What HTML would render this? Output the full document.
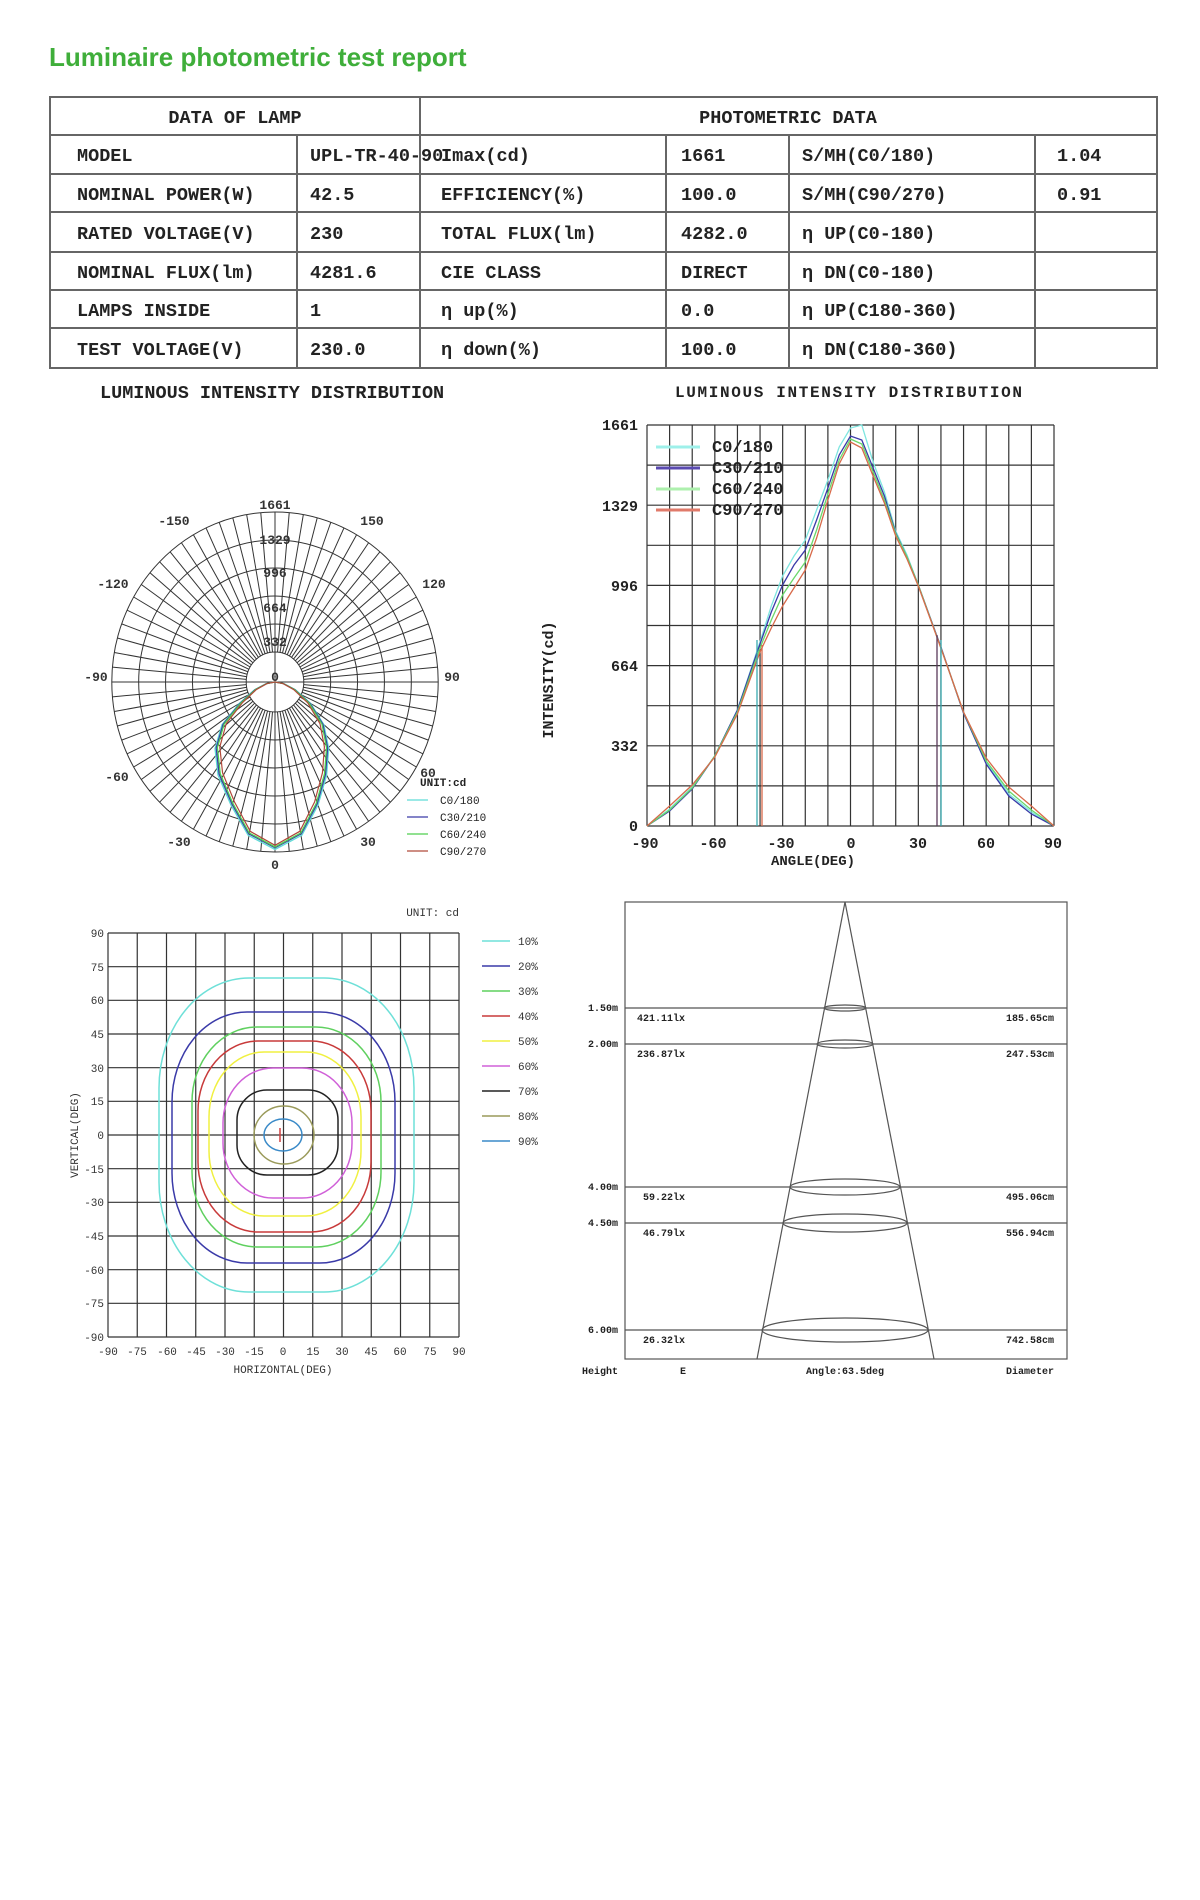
<!DOCTYPE html>
<html><head><meta charset="utf-8"><style>
html,body{margin:0;padding:0;background:#fff;}
svg{display:block}
.t{font-family:"Liberation Mono",monospace;font-weight:bold;fill:#222}
.m{font-family:"Liberation Mono",monospace;fill:#333}
</style></head><body>
<svg id="s" width="1200" height="1900" viewBox="0 0 1200 1900" xmlns="http://www.w3.org/2000/svg">
<rect width="1200" height="1900" fill="#fff"/>
<text x="49" y="66" font-family="Liberation Sans, sans-serif" font-weight="bold" font-size="26" fill="#3fae3a">Luminaire photometric test report</text>

<g stroke="#666" stroke-width="2" fill="none">
<rect x="50" y="97" width="1107" height="271"/>
<line x1="50" y1="135" x2="1157" y2="135"/>
<line x1="50" y1="174" x2="1157" y2="174"/>
<line x1="50" y1="212" x2="1157" y2="212"/>
<line x1="50" y1="252" x2="1157" y2="252"/>
<line x1="50" y1="290" x2="1157" y2="290"/>
<line x1="50" y1="328" x2="1157" y2="328"/>
<line x1="420" y1="97" x2="420" y2="368"/>
<line x1="297" y1="135" x2="297" y2="368"/>
<line x1="666" y1="135" x2="666" y2="368"/>
<line x1="789" y1="135" x2="789" y2="368"/>
<line x1="1035" y1="135" x2="1035" y2="368"/>
</g>
<g class="t" font-size="18.5">
<text x="235" y="123" text-anchor="middle">DATA OF LAMP</text>
<text x="788" y="123" text-anchor="middle">PHOTOMETRIC DATA</text>
<text x="77" y="161">MODEL</text><text x="310" y="161">UPL-TR-40-90</text><text x="441" y="161">Imax(cd)</text><text x="681" y="161">1661</text><text x="802" y="161">S/MH(C0/180)</text><text x="1057" y="161">1.04</text>
<text x="77" y="200">NOMINAL POWER(W)</text><text x="310" y="200">42.5</text><text x="441" y="200">EFFICIENCY(%)</text><text x="681" y="200">100.0</text><text x="802" y="200">S/MH(C90/270)</text><text x="1057" y="200">0.91</text>
<text x="77" y="239">RATED VOLTAGE(V)</text><text x="310" y="239">230</text><text x="441" y="239">TOTAL FLUX(lm)</text><text x="681" y="239">4282.0</text><text x="802" y="239">η UP(C0-180)</text>
<text x="77" y="278">NOMINAL FLUX(lm)</text><text x="310" y="278">4281.6</text><text x="441" y="278">CIE CLASS</text><text x="681" y="278">DIRECT</text><text x="802" y="278">η DN(C0-180)</text>
<text x="77" y="316">LAMPS INSIDE</text><text x="310" y="316">1</text><text x="441" y="316">η up(%)</text><text x="681" y="316">0.0</text><text x="802" y="316">η UP(C180-360)</text>
<text x="77" y="355">TEST VOLTAGE(V)</text><text x="310" y="355">230.0</text><text x="441" y="355">η down(%)</text><text x="681" y="355">100.0</text><text x="802" y="355">η DN(C180-360)</text>
</g>

<text class="t" x="100" y="398" font-size="18.5">LUMINOUS INTENSITY DISTRIBUTION</text>
<text class="t" x="675" y="397" font-size="16" textLength="347">LUMINOUS INTENSITY DISTRIBUTION</text>

<g id="polar" stroke="#333" stroke-width="1" fill="none"></g>
<g class="m" font-size="13" font-weight="bold" text-anchor="middle" fill="#333">
<text x="275" y="509">1661</text><text x="275" y="544">1329</text><text x="275" y="577">996</text><text x="275" y="612">664</text><text x="275" y="646">332</text><text x="275" y="681">0</text>
<text x="174" y="525">-150</text><text x="372" y="525">150</text>
<text x="113" y="588">-120</text><text x="434" y="588">120</text>
<text x="96" y="681">-90</text><text x="452" y="681">90</text>
<text x="117" y="781">-60</text><text x="428" y="777">60</text>
<text x="179" y="846">-30</text><text x="368" y="846">30</text>
<text x="275" y="869">0</text>
</g>
<g fill="none" stroke-width="1.3">
<path stroke="#5fdcd6" d="M275,682 L266.3,683.6 L254.7,689.7 L239.3,703.5 L222,724.7 L215,748.6 L218,775.1 L231,805.1 L248.1,835.2 L275,849.5 L301.9,835.2 L318,805.1 L326.6,775.1 L328.7,748.6 L323.9,724.7 L310.7,703.5 L295.3,689.7 L283.7,683.6 Z"/>
<path stroke="#3a3aa8" transform="translate(275 682) scale(0.98 0.99) translate(-275 -682)" d="M275,682 L266.3,683.6 L254.7,689.7 L239.3,703.5 L222,724.7 L215,748.6 L218,775.1 L231,805.1 L248.1,835.2 L275,849.5 L301.9,835.2 L318,805.1 L326.6,775.1 L328.7,748.6 L323.9,724.7 L310.7,703.5 L295.3,689.7 L283.7,683.6 Z"/>
<path stroke="#4fcf4f" transform="translate(275 682) scale(0.96 0.985) translate(-275 -682)" d="M275,682 L266.3,683.6 L254.7,689.7 L239.3,703.5 L222,724.7 L215,748.6 L218,775.1 L231,805.1 L248.1,835.2 L275,849.5 L301.9,835.2 L318,805.1 L326.6,775.1 L328.7,748.6 L323.9,724.7 L310.7,703.5 L295.3,689.7 L283.7,683.6 Z"/>
<path stroke="#b04a3a" transform="translate(275 682) scale(0.92 0.975) translate(-275 -682)" d="M275,682 L266.3,683.6 L254.7,689.7 L239.3,703.5 L222,724.7 L215,748.6 L218,775.1 L231,805.1 L248.1,835.2 L275,849.5 L301.9,835.2 L318,805.1 L326.6,775.1 L328.7,748.6 L323.9,724.7 L310.7,703.5 L295.3,689.7 L283.7,683.6 Z"/>
</g>
<g class="t" font-size="11">
<text x="420" y="786">UNIT:cd</text>
<text x="440" y="804" font-weight="normal">C0/180</text>
<text x="440" y="821" font-weight="normal">C30/210</text>
<text x="440" y="838" font-weight="normal">C60/240</text>
<text x="440" y="855" font-weight="normal">C90/270</text>
</g>
<g stroke-width="1.3">
<line x1="407" y1="800" x2="428" y2="800" stroke="#5fdcd6"/>
<line x1="407" y1="817" x2="428" y2="817" stroke="#3a3aa8"/>
<line x1="407" y1="834" x2="428" y2="834" stroke="#4fcf4f"/>
<line x1="407" y1="851" x2="428" y2="851" stroke="#b04a3a"/>
</g>

<g id="lin" stroke="#333" stroke-width="1.2" fill="none"></g>
<g class="t" font-size="15" text-anchor="end">
<text x="638" y="430">1661</text><text x="638" y="511">1329</text><text x="638" y="591">996</text><text x="638" y="671">664</text><text x="638" y="751">332</text><text x="638" y="831">0</text>
</g>
<g class="t" font-size="15" text-anchor="middle">
<text x="645" y="848">-90</text><text x="713" y="848">-60</text><text x="781" y="848">-30</text><text x="851" y="848">0</text><text x="918" y="848">30</text><text x="986" y="848">60</text><text x="1053" y="848">90</text>
<text x="813" y="865" font-size="14">ANGLE(DEG)</text>
<text transform="translate(553 680) rotate(-90)" font-size="15">INTENSITY(cd)</text>
</g>
<g fill="none" stroke-width="1.3">
<polyline stroke="#7fe6e0" points="647,826 669.6,809 692.2,787 714.8,756 737.4,710 760,642 771.3,606 782.6,576 794,556 805.3,540 816.6,510 827.9,480 839.2,447 850.5,428 861.8,425 873.1,462 884.4,492 895.7,531 907,555 918.3,585 940.9,647 963.5,713 986.2,762 1008.8,794 1031.4,812 1054,826"/>
<polyline stroke="#3a3aa8" points="647,826 669.6,811 692.2,789 714.8,756 737.4,710 760,644 771.3,612 782.6,585 794,565 805.3,550 816.6,520 827.9,488 839.2,455 850.5,436 861.8,440 873.1,468 884.4,496 895.7,533 907,557 918.3,585 940.9,647 963.5,713 986.2,764 1008.8,796 1031.4,814 1054,826"/>
<polyline stroke="#6ad86a" points="647,826 669.6,810 692.2,788 714.8,756 737.4,712 760,648 771.3,620 782.6,595 794,578 805.3,562 816.6,530 827.9,494 839.2,460 850.5,439 861.8,444 873.1,472 884.4,500 895.7,534 907,557 918.3,585 940.9,648 963.5,712 986.2,761 1008.8,791 1031.4,810 1054,826"/>
<polyline stroke="#d86a4a" points="647,826 669.6,806 692.2,785 714.8,757 737.4,714 760,652 771.3,628 782.6,606 794,588 805.3,570 816.6,538 827.9,500 839.2,464 850.5,442 861.8,448 873.1,476 884.4,503 895.7,536 907,559 918.3,586 940.9,648 963.5,712 986.2,758 1008.8,787 1031.4,806 1054,826"/>
<line x1="757" y1="826" x2="757" y2="640" stroke="#3aaab0"/>
<line x1="762" y1="826" x2="762" y2="645" stroke="#d86a4a"/>
<line x1="937" y1="826" x2="937" y2="635" stroke="#5a3a5a"/>
<line x1="941" y1="826" x2="941" y2="640" stroke="#3aaab0"/>
<line x1="656" y1="447" x2="700" y2="447" stroke="#9ef0ea" stroke-width="3"/>
<line x1="656" y1="468" x2="700" y2="468" stroke="#5a4ab0" stroke-width="3"/>
<line x1="656" y1="489" x2="700" y2="489" stroke="#aef0ae" stroke-width="3"/>
<line x1="656" y1="510" x2="700" y2="510" stroke="#e07a6a" stroke-width="3"/>
</g>
<g class="t" font-size="17">
<text x="712" y="452">C0/180</text><text x="712" y="473">C30/210</text><text x="712" y="494">C60/240</text><text x="712" y="515">C90/270</text>
</g>

<g id="iso" stroke="#333" stroke-width="1.2" fill="none"></g>
<g class="m" font-size="11" text-anchor="end" fill="#555">
<text x="104" y="937">90</text><text x="104" y="971">75</text><text x="104" y="1004">60</text><text x="104" y="1038">45</text><text x="104" y="1072">30</text><text x="104" y="1105">15</text><text x="104" y="1139">0</text><text x="104" y="1173">-15</text><text x="104" y="1206">-30</text><text x="104" y="1240">-45</text><text x="104" y="1274">-60</text><text x="104" y="1307">-75</text><text x="104" y="1341">-90</text>
</g>
<g class="m" font-size="11" text-anchor="middle" fill="#555">
<text x="108" y="1355">-90</text><text x="137" y="1355">-75</text><text x="167" y="1355">-60</text><text x="196" y="1355">-45</text><text x="225" y="1355">-30</text><text x="254" y="1355">-15</text><text x="283" y="1355">0</text><text x="313" y="1355">15</text><text x="342" y="1355">30</text><text x="371" y="1355">45</text><text x="400" y="1355">60</text><text x="430" y="1355">75</text><text x="459" y="1355">90</text>
<text x="283" y="1373">HORIZONTAL(DEG)</text>
<text transform="translate(78 1135) rotate(-90)">VERTICAL(DEG)</text>
<text x="459" y="916" text-anchor="end">UNIT: cd</text>
</g>
<g fill="none" stroke-width="1.5">
<rect x="159" y="978" width="255" height="314" rx="90" ry="110" stroke="#6ee0d8"/>
<rect x="172" y="1012" width="223" height="251" rx="75" ry="90" stroke="#3a3aa8"/>
<rect x="192" y="1027" width="189" height="220" rx="65" ry="75" stroke="#5fd05f"/>
<rect x="198" y="1041" width="173" height="191" rx="60" ry="70" stroke="#c83a3a"/>
<rect x="209" y="1052" width="152" height="164" rx="55" ry="65" stroke="#f0f040"/>
<rect x="223" y="1068" width="129" height="130" rx="50" ry="55" stroke="#d060d8"/>
<rect x="237" y="1090" width="101" height="85" rx="30" ry="30" stroke="#222"/>
<ellipse cx="284" cy="1135" rx="30" ry="29" stroke="#9a9a5a"/>
<ellipse cx="283" cy="1135" rx="19" ry="16" stroke="#3a8ac8"/>
<line x1="280" y1="1128" x2="280" y2="1142" stroke="#d04040"/>
</g>
<g stroke-width="1.5">
<line x1="482" y1="941" x2="510" y2="941" stroke="#6ee0d8"/>
<line x1="482" y1="966" x2="510" y2="966" stroke="#3a3aa8"/>
<line x1="482" y1="991" x2="510" y2="991" stroke="#5fd05f"/>
<line x1="482" y1="1016" x2="510" y2="1016" stroke="#c83a3a"/>
<line x1="482" y1="1041" x2="510" y2="1041" stroke="#f0f040"/>
<line x1="482" y1="1066" x2="510" y2="1066" stroke="#d060d8"/>
<line x1="482" y1="1091" x2="510" y2="1091" stroke="#222"/>
<line x1="482" y1="1116" x2="510" y2="1116" stroke="#9a9a5a"/>
<line x1="482" y1="1141" x2="510" y2="1141" stroke="#3a8ac8"/>
</g>
<g class="m" font-size="11" fill="#555">
<text x="518" y="945">10%</text><text x="518" y="970">20%</text><text x="518" y="995">30%</text><text x="518" y="1020">40%</text><text x="518" y="1045">50%</text><text x="518" y="1070">60%</text><text x="518" y="1095">70%</text><text x="518" y="1120">80%</text><text x="518" y="1145">90%</text>
</g>

<g stroke="#555" stroke-width="1.2" fill="none">
<rect x="625" y="902" width="442" height="457"/>
<line x1="845" y1="902" x2="757" y2="1359"/>
<line x1="845" y1="902" x2="934" y2="1359"/>
<line x1="625" y1="1008" x2="1067" y2="1008"/>
<line x1="625" y1="1044" x2="1067" y2="1044"/>
<line x1="625" y1="1187" x2="1067" y2="1187"/>
<line x1="625" y1="1223" x2="1067" y2="1223"/>
<line x1="625" y1="1330" x2="1067" y2="1330"/>
<ellipse cx="845" cy="1008" rx="21" ry="3"/>
<ellipse cx="845" cy="1044" rx="28" ry="4"/>
<ellipse cx="845" cy="1187" rx="55" ry="8"/>
<ellipse cx="845" cy="1223" rx="62" ry="9"/>
<ellipse cx="845" cy="1330" rx="83" ry="12"/>
</g>
<g class="t" font-size="10">
<text x="588" y="1011">1.50m</text><text x="588" y="1047">2.00m</text><text x="588" y="1190">4.00m</text><text x="588" y="1226">4.50m</text><text x="588" y="1333">6.00m</text>
<text x="637" y="1021">421.11lx</text><text x="637" y="1057">236.87lx</text><text x="643" y="1200">59.22lx</text><text x="643" y="1236">46.79lx</text><text x="643" y="1343">26.32lx</text>
<g text-anchor="end"><text x="1054" y="1021">185.65cm</text><text x="1054" y="1057">247.53cm</text><text x="1054" y="1200">495.06cm</text><text x="1054" y="1236">556.94cm</text><text x="1054" y="1343">742.58cm</text>
<text x="1054" y="1374">Diameter</text></g>
<text x="582" y="1374">Height</text><text x="680" y="1374">E</text>
<text x="845" y="1374" text-anchor="middle">Angle:63.5deg</text>
</g>
</svg>
<script>
(function(){
var NS="http://www.w3.org/2000/svg";
function L(g,x1,y1,x2,y2){var l=document.createElementNS(NS,"line");l.setAttribute("x1",x1);l.setAttribute("y1",y1);l.setAttribute("x2",x2);l.setAttribute("y2",y2);g.appendChild(l);}
function E(g,cx,cy,rx,ry){var e=document.createElementNS(NS,"ellipse");e.setAttribute("cx",cx);e.setAttribute("cy",cy);e.setAttribute("rx",rx);e.setAttribute("ry",ry);g.appendChild(e);}
var p=document.getElementById("polar"),cx=275,cy=682,k=0.96;
[30,58,86,114,142,170].forEach(function(r){E(p,cx,cy,r*k,r);});
for(var a=0;a<360;a+=5){var t=a*Math.PI/180,s=Math.sin(t),c=Math.cos(t);L(p,cx+30*s*k,cy+30*c,cx+170*s*k,cy+170*c);}
L(p,cx,cy-170,cx,cy+170);L(p,cx-170*k,cy,cx+170*k,cy);
var g=document.getElementById("lin");
for(var i=0;i<=18;i++){var x=647+i*407/18;L(g,x,425,x,826);}
for(var j=0;j<=10;j++){var y=425+j*40.1;L(g,647,y,1054,y);}
var q=document.getElementById("iso");
for(var i=0;i<=12;i++){var x=108+i*351/12;L(q,x,933,x,1337);}
for(var j=0;j<=12;j++){var y=933+j*404/12;L(q,108,y,459,y);}
})();
</script>
</body></html>
